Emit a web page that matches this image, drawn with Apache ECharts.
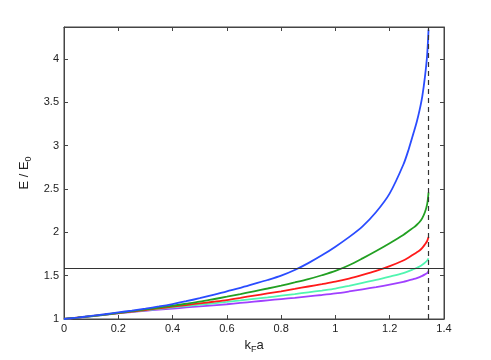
<!DOCTYPE html>
<html>
<head>
<meta charset="utf-8">
<script src="https://cdn.jsdelivr.net/npm/echarts@6/dist/echarts.min.js"></script>
<style>html,body{margin:0;padding:0;background:#fff;}#c{width:491px;height:360px;}</style>
</head>
<body>
<div id="c"></div>
<script>
var xs = [0,0.05,0.1,0.15,0.2,0.25,0.3,0.35,0.4,0.45,0.5,0.55,0.6,0.65,0.7,0.75,0.8,0.85,0.9,0.95,1.0,1.05,1.1,1.15,1.2,1.25,1.27,1.29,1.3,1.31,1.32,1.33,1.338,1.343];
var blue = [1,1.017,1.035,1.055,1.076,1.097,1.12,1.145,1.173,1.205,1.24,1.278,1.32,1.36,1.405,1.45,1.50,1.565,1.645,1.735,1.835,1.945,2.07,2.235,2.45,2.78,2.96,3.17,3.28,3.41,3.57,3.8,4.05,4.34];
var green = [1,1.016,1.033,1.051,1.07,1.09,1.11,1.131,1.153,1.176,1.20,1.228,1.257,1.288,1.32,1.352,1.386,1.422,1.46,1.505,1.555,1.62,1.70,1.785,1.875,1.97,2.015,2.06,2.088,2.12,2.165,2.235,2.325,2.46];
var red = [1,1.016,1.032,1.05,1.068,1.086,1.104,1.123,1.142,1.161,1.18,1.199,1.219,1.244,1.27,1.295,1.32,1.347,1.375,1.402,1.43,1.465,1.508,1.555,1.61,1.675,1.71,1.75,1.77,1.79,1.82,1.862,1.90,1.945];
var cyan = [1,1.016,1.031,1.049,1.067,1.084,1.10,1.118,1.134,1.15,1.165,1.181,1.197,1.214,1.232,1.25,1.269,1.288,1.308,1.328,1.35,1.383,1.418,1.452,1.49,1.53,1.552,1.578,1.59,1.605,1.625,1.65,1.675,1.70];
var purple = [1,1.015,1.03,1.048,1.065,1.08,1.095,1.108,1.12,1.133,1.145,1.158,1.17,1.185,1.20,1.215,1.23,1.245,1.261,1.277,1.295,1.318,1.343,1.368,1.396,1.428,1.445,1.462,1.472,1.484,1.498,1.515,1.53,1.55];
var hLine = 1.59;
var vLine = 1.343;

function pairs(ys){ return xs.map(function(x,i){ return [x, ys[i]]; }); }

var chart = echarts.init(document.getElementById('c'));
var font = 'Liberation Sans, Arial, sans-serif';
var axisCol = '#444';
function lineSeries(ys, color){
  return { type:'line', data:pairs(ys), showSymbol:false, smooth:0.3,
    lineStyle:{color:color, width:1.8}, itemStyle:{color:color}, z:3, animation:false };
}
var series = [
  lineSeries(purple,'#a040ff'),
  lineSeries(cyan,'#50f5b0'),
  lineSeries(red,'#ff1a1a'),
  lineSeries(green,'#22a022'),
  lineSeries(blue,'#2a4cff')
];
series.push({ type:'line', data:[], animation:false,
  markLine:{ silent:true, symbol:'none', label:{show:false}, animation:false,
    data:[ [{coord:[0,hLine]},{coord:[1.4,hLine]}] ],
    lineStyle:{color:'#333', width:1.2, type:'solid'} } });
series.push({ type:'line', data:[], animation:false,
  markLine:{ silent:true, symbol:'none', label:{show:false}, animation:false,
    data:[ [{coord:[vLine,1]},{coord:[vLine,4.37]}] ],
    lineStyle:{color:'#333', width:1.2, type:[5,4]} } });

var richName = {
  k:{fontSize:13, fontFamily:font, color:'#222', lineHeight:14, verticalAlign:'top'},
  s:{fontSize:9, fontFamily:font, color:'#222', lineHeight:12, padding:[6,0,0,0], verticalAlign:'top'}
};

chart.setOption({
  animation:false,
  backgroundColor:'#fff',
  grid:{left:64, right:47, top:27, bottom:41, show:true, borderColor:axisCol, borderWidth:1},
  xAxis:[{
    type:'value', min:0, max:1.4, interval:0.2, position:'bottom',
    name:'{k|k}{s|F}{k|a}', nameLocation:'middle', nameGap:17,
    nameTextStyle:{rich:richName},
    axisLine:{show:true, onZero:false, lineStyle:{color:axisCol}},
    axisTick:{inside:true, length:4, lineStyle:{color:axisCol}},
    axisLabel:{color:'#222', fontSize:11, fontFamily:font, margin:4},
    splitLine:{show:false}
  },{
    type:'value', min:0, max:1.4, interval:0.2, position:'top',
    axisLine:{show:true, onZero:false, lineStyle:{color:axisCol}},
    axisTick:{inside:true, length:4, lineStyle:{color:axisCol}},
    axisLabel:{show:false}, splitLine:{show:false}
  }],
  yAxis:[{
    type:'value', min:1, max:4.37, interval:0.5, position:'left',
    name:'{k|E / E}{s|0}', nameLocation:'middle', nameGap:26, nameRotate:90,
    nameTextStyle:{rich:richName},
    axisLine:{show:true, onZero:false, lineStyle:{color:axisCol}},
    axisTick:{inside:true, length:4, lineStyle:{color:axisCol}},
    axisLabel:{color:'#222', fontSize:11, fontFamily:font, margin:5, showMaxLabel:false},
    splitLine:{show:false}
  },{
    type:'value', min:1, max:4.37, interval:0.5, position:'right',
    axisLine:{show:true, onZero:false, lineStyle:{color:axisCol}},
    axisTick:{inside:true, length:4, lineStyle:{color:axisCol}},
    axisLabel:{show:false}, splitLine:{show:false}
  }],
  series: series
});
</script>
</body>
</html>
